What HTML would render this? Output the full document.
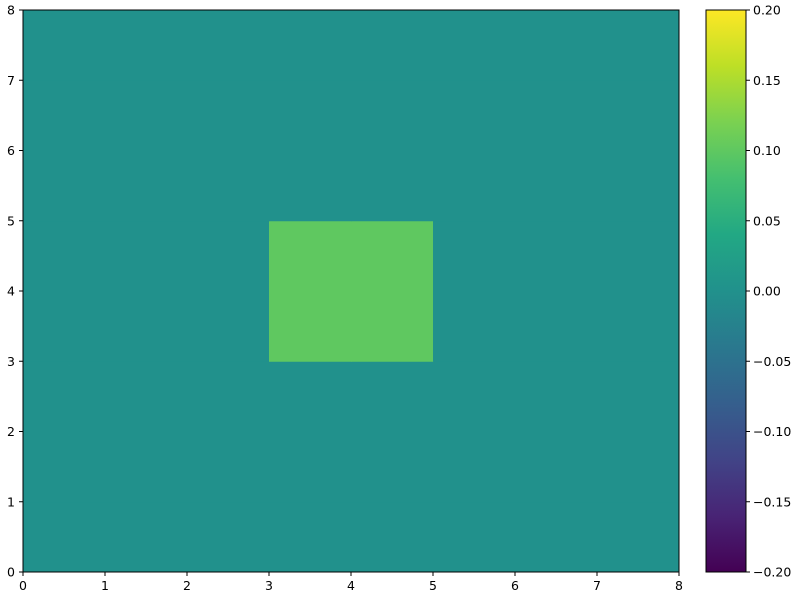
<!DOCTYPE html>
<html><head><meta charset="utf-8"><style>
body{margin:0;background:#fff;}
svg text{font-family:"DejaVu Sans","Liberation Sans",sans-serif;font-size:12.5px;fill:#000;}
</style></head><body>
<svg id="chart" width="800" height="600" xmlns="http://www.w3.org/2000/svg">
<defs>
<linearGradient id="vir" x1="0" y1="1" x2="0" y2="0">
<stop offset="0" stop-color="#440154"/><stop offset="0.1" stop-color="#482475"/>
<stop offset="0.2" stop-color="#414487"/><stop offset="0.3" stop-color="#355f8d"/>
<stop offset="0.4" stop-color="#2a788e"/><stop offset="0.5" stop-color="#21918c"/>
<stop offset="0.6" stop-color="#22a884"/><stop offset="0.7" stop-color="#44bf70"/>
<stop offset="0.8" stop-color="#7ad151"/><stop offset="0.9" stop-color="#bddf26"/>
<stop offset="1" stop-color="#fde725"/>
</linearGradient>
</defs>
<g id="cells"></g>
<rect x="23" y="10" width="656" height="562" fill="none" stroke="#000" stroke-width="1"/>
<g id="axes"></g>
<rect x="706" y="10" width="40" height="562" fill="url(#vir)" stroke="#000" stroke-width="1"/>
<g id="cbticks"></g>
</svg>
<script>
const xTicks=[0,1,2,3,4,5,6,7,8];
const yTicks=[0,1,2,3,4,5,6,7,8];
const cbTicks=[-0.20,-0.15,-0.10,-0.05,0.00,0.05,0.10,0.15,0.20];
const gridValues=[
[0,0,0,0,0,0,0,0],
[0,0,0,0,0,0,0,0],
[0,0,0,0,0,0,0,0],
[0,0,0,0.1,0.1,0,0,0],
[0,0,0,0.1,0.1,0,0,0],
[0,0,0,0,0,0,0,0],
[0,0,0,0,0,0,0,0],
[0,0,0,0,0,0,0,0]];
const vmin=-0.2,vmax=0.2;
const NS="http://www.w3.org/2000/svg";
const X=v=>23+v*82, Y=v=>572-v*70.25, CB=v=>572-(v-vmin)/(vmax-vmin)*562;
const stops=[[68,1,84],[72,36,117],[65,68,135],[53,95,141],[42,120,142],[33,145,140],[34,168,132],[68,191,112],[122,209,81],[189,223,38],[253,231,37]];
function col(v){let t=Math.max(0,Math.min(1,(v-vmin)/(vmax-vmin)))*10;let i=Math.min(9,Math.floor(t)),f=t-i;
const c=stops[i].map((a,k)=>Math.round(a+(stops[i+1][k]-a)*f));return `rgb(${c})`;}
function mk(t,a,p){const e=document.createElementNS(NS,t);for(const k in a)e.setAttribute(k,a[k]);p.appendChild(e);return e;}
const cells=document.getElementById('cells');
gridValues.forEach((row,r)=>row.forEach((v,c)=>{
const e=mk('rect',{x:X(c),y:Y(r+1),width:X(c+1)-X(c)+0.5,height:Y(r)-Y(r+1)+0.5,fill:col(v)},cells);


}));
const ax=document.getElementById('axes');
xTicks.forEach(v=>{
mk('line',{x1:X(v),x2:X(v),y1:572,y2:576,stroke:'#000'},ax);
const t=mk('text',{x:X(v),y:590,'text-anchor':'middle'},ax);t.textContent=v;


});
yTicks.forEach(v=>{
mk('line',{x1:19,x2:23,y1:Y(v),y2:Y(v),stroke:'#000'},ax);
const t=mk('text',{x:15,y:Y(v)+4.5,'text-anchor':'end'},ax);t.textContent=v;


});
const cb=document.getElementById('cbticks');
cbTicks.forEach(v=>{
mk('line',{x1:746,x2:750,y1:CB(v),y2:CB(v),stroke:'#000'},cb);
const t=mk('text',{x:753,y:CB(v)+4.5},cb);t.textContent=v.toFixed(2).replace('-','\u2212');


});
</script>
</body></html>
